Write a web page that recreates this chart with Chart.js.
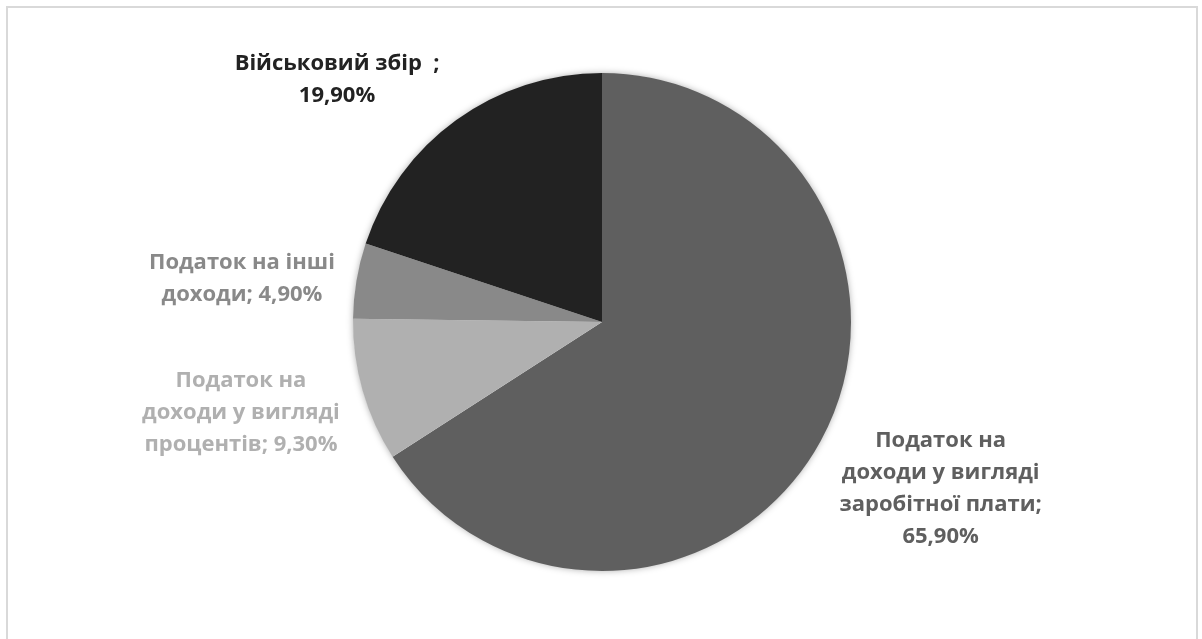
<!DOCTYPE html>
<html lang="uk">
<head>
<meta charset="utf-8">
<script src="https://cdn.jsdelivr.net/npm/chart.js@4"></script>
<style>
    html, body { margin: 0; padding: 0; background: #fff; overflow: hidden; }
    #frame {
        position: absolute; left: 6px; top: 6px; width: 1188px; height: 650px;
        border: 2px solid #d9d9d9; border-bottom: none;
    }
    #wrap { position: absolute; left: 0; top: 0; width: 1202px; height: 639px; }
</style>
</head>
<body>
<div id="frame"></div>
<div id="wrap"><canvas id="taxChart" width="1202" height="639"></canvas></div>
<script>
// Структура надходжень (частки, %)
const categories = [
    'Податок на доходи у вигляді заробітної плати',
    'Податок на доходи у вигляді процентів',
    'Податок на інші доходи',
    'Військовий збір  ',
];
const shares = [65.9, 9.3, 4.9, 19.9];
const sliceColors = ['#5f5f5f', '#b0b0b0', '#898989', '#222222'];

// where each label sits, in pie radii from the centre
const labelOffsets = [[1.36, 0.67], [-1.45, 0.365], [-1.446, -0.173], [-1.064, -0.972]];
const LABEL_FONT = 'bold 22px "Open Sans"';
const LINE_H = 32;
const WRAP_W = 212;

function fmtPct(v) {
    return v.toFixed(2).replace('.', ',') + '%';
}

function wrapText(ctx, text, maxW) {
    const words = text.split(/ (?=\S)/);
    const lines = [];
    let cur = '';
    words.forEach(w => {
        const test = cur ? cur + ' ' + w : w;
        if (cur && ctx.measureText(test).width > maxW) {
            lines.push(cur);
            cur = w;
        } else {
            cur = test;
        }
    });
    if (cur) lines.push(cur);
    return lines;
}

const pieShadow = {
    id: 'pieShadow',
    beforeDatasetsDraw(chart) {
        const arc = chart.getDatasetMeta(0).data[0];
        if (!arc) return;
        const ctx = chart.ctx;
        ctx.save();
        ctx.shadowColor = 'rgba(0,0,0,0.35)';
        ctx.shadowBlur = 7;
        ctx.fillStyle = '#fff';
        ctx.beginPath();
        ctx.arc(arc.x, arc.y, arc.outerRadius - 0.5, 0, Math.PI * 2);
        ctx.fill();
        ctx.restore();
    }
};

const outsideLabels = {
    id: 'outsideLabels',
    afterDatasetsDraw(chart) {
        const ctx = chart.ctx;
        const meta = chart.getDatasetMeta(0);
        ctx.save();
        ctx.font = LABEL_FONT;
        ctx.textAlign = 'center';
        ctx.textBaseline = 'middle';
        meta.data.forEach((arc, i) => {
            const text = categories[i] + '; ' + fmtPct(shares[i]);
            const lines = wrapText(ctx, text, WRAP_W);
            const r = arc.outerRadius;
            const cx = arc.x + labelOffsets[i][0] * r;
            const cy = arc.y + labelOffsets[i][1] * r;
            const top = cy - (lines.length - 1) * LINE_H / 2;
            ctx.fillStyle = sliceColors[i];
            lines.forEach((ln, k) => ctx.fillText(ln, cx, top + k * LINE_H));
        });
        ctx.restore();
    }
};

new Chart(document.getElementById('taxChart'), {
    type: 'pie',
    data: {
        labels: categories,
        datasets: [{
            data: shares,
            backgroundColor: sliceColors,
            borderWidth: 0,
        }]
    },
    options: {
        responsive: false,
        animation: false,
        layout: { padding: { top: 73, bottom: 68, left: 2, right: 0 } },
        plugins: {
            legend: { display: false },
            tooltip: { enabled: false },
        }
    },
    plugins: [pieShadow, outsideLabels]
});
</script>
</body>
</html>
